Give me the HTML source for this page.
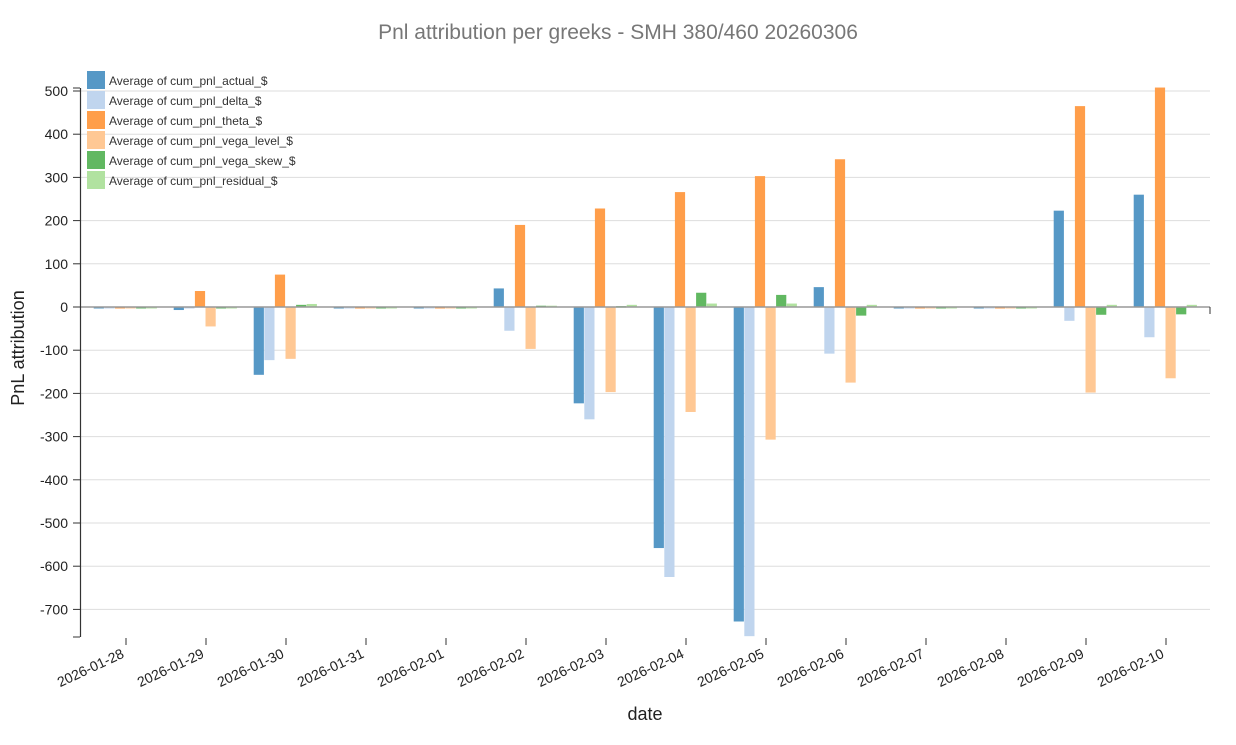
<!DOCTYPE html>
<html><head><meta charset="utf-8"><style>body{margin:0;background:#fff}svg{display:block;font-family:"Liberation Sans",sans-serif}</style></head><body>
<svg width="1236" height="745" xmlns="http://www.w3.org/2000/svg">
<text x="618" y="39" text-anchor="middle" font-size="21" fill="#777">Pnl attribution per greeks - SMH 380/460 20260306</text>
<g id="grid" stroke="#ddd" stroke-width="1"></g>
<g id="bars"></g>
<line x1="80" y1="307" x2="1210" y2="307" stroke="#999" stroke-width="1.5"/>
<line x1="1210" y1="307" x2="1210" y2="314" stroke="#333"/>
<line x1="80.5" y1="88" x2="80.5" y2="637" stroke="#333" stroke-width="1.2"/>
<line x1="73" y1="88" x2="80" y2="88" stroke="#333"/>
<line x1="73" y1="637" x2="80" y2="637" stroke="#333"/>
<g id="yt" font-size="14" fill="#222" text-anchor="end"></g>
<g id="xt" font-size="14" fill="#222" text-anchor="end"></g>
<text transform="translate(24,348) rotate(-90)" text-anchor="middle" font-size="18" fill="#222">PnL attribution</text>
<text x="645" y="720" text-anchor="middle" font-size="18" fill="#222">date</text>
<g id="leg" font-size="12" fill="#333"></g>
<script>
const ns="http://www.w3.org/2000/svg";
function el(p,t,a,txt){const e=document.createElementNS(ns,t);for(const k in a)e.setAttribute(k,a[k]);if(txt!==undefined)e.textContent=txt;document.getElementById(p).appendChild(e);}
const Y=v=>307-v*0.432;
for(let v=-700;v<=500;v+=100){if(v!==0)el("grid","line",{x1:80,x2:1210,y1:Y(v),y2:Y(v)});
el("yt","text",{x:68,y:Y(v)+5},v);el("yt","line",{x1:73,x2:80,y1:Y(v),y2:Y(v),stroke:"#333"});}
const dates=["2026-01-28","2026-01-29","2026-01-30","2026-01-31","2026-02-01","2026-02-02","2026-02-03","2026-02-04","2026-02-05","2026-02-06","2026-02-07","2026-02-08","2026-02-09","2026-02-10"];
const data=[[-2,-1,-1,-1,-2,-1],[-7,-1,37,-45,-2,-1],[-157,-123,75,-120,5,7],[-1,-1,-1,-1,-2,-1],[-1,-1,-1,-1,-2,-1],[43,-55,190,-97,3,3],[-223,-260,228,-197,2,5],[-558,-625,266,-243,33,8],[-728,-762,303,-307,28,8],[46,-108,342,-175,-20,5],[-1,-1,-1,-1,-2,-1],[-1,-1,-1,-1,-2,-1],[223,-32,465,-198,-18,5],[260,-70,508,-165,-17,5]];
const cols=["#5698c6","#c0d5ee","#ff9e4a","#ffc894","#61b861","#b1e2a0"];
dates.forEach((d,i)=>{const t=126+80*i;
el("xt","line",{x1:t,x2:t,y1:638,y2:645,stroke:"#333"});
el("xt","text",{transform:`translate(${t-1},657) rotate(-25)`},d);
data[i].forEach((v,j)=>{const x=t-32.3+j*10.6;const y=Math.min(Y(v),307),h=Math.max(Math.abs(v*0.432),1.5);
el("bars","rect",{x:x,y:y,width:10.2,height:h,fill:cols[j]});});});
const names=["actual","delta","theta","vega_level","vega_skew","residual"];
names.forEach((n,j)=>{el("leg","rect",{x:87,y:71+j*20,width:18,height:18,fill:cols[j]});
el("leg","text",{x:109,y:85+j*20},"Average of cum_pnl_"+n+"_$");});
</script>
</svg></body></html>
